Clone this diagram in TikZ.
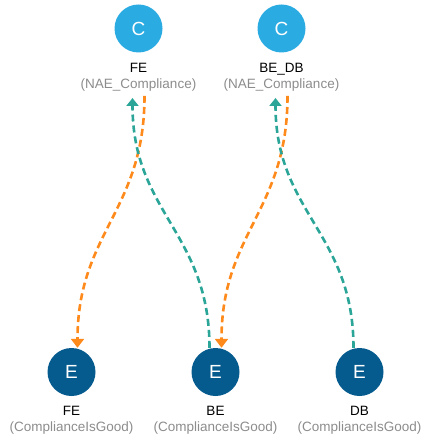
\documentclass[tikz,border=0pt]{standalone}
\usepackage{fontspec}
\setmainfont{Liberation Sans}
\usetikzlibrary{arrows.meta}
\definecolor{cblue}{HTML}{2AABE2}
\definecolor{eblue}{HTML}{065B8E}
\definecolor{floworange}{HTML}{FF8A1C}
\definecolor{flowteal}{HTML}{2AA598}
\definecolor{subgray}{HTML}{8C8C8C}
\begin{document}
\begin{tikzpicture}[x=1pt,y=-1pt,
        cnode/.style={circle,fill=cblue,minimum size=48pt,inner sep=0pt,text=white,font=\fontsize{19}{19}\selectfont},
        enode/.style={circle,fill=eblue,minimum size=48pt,inner sep=0pt,text=white,font=\fontsize{19}{19}\selectfont},
        caption/.style={align=center,anchor=north,inner sep=0pt,font=\fontsize{13.5}{16}\selectfont},
        orflow/.style={draw=floworange,line width=2.6pt,dash pattern=on 7pt off 4pt,-{Triangle[width=13pt,length=9pt]}},
        tlflow/.style={draw=flowteal,line width=2.6pt,dash pattern=on 7pt off 4pt,-{Triangle[width=12pt,length=8pt]}}]
    \useasboundingbox (0,0) rectangle (423,435);
    % compliance nodes
    \node [cnode] (fe) at (138.5,28.5) {C};
    \node [cnode] (bedb) at (281.5,28.5) {C};
    \node [caption] (fe-txt) at (138.5,63.5) {FE\\\textcolor{subgray}{(NAE\_Compliance)}};
    \node [caption] (bedb-txt) at (281.5,63.5) {BE\_DB\\\textcolor{subgray}{(NAE\_Compliance)}};
    % endpoint nodes
    \foreach \x/\name/\text in {71.5/fee/FE,215.5/bee/BE,359.5/dbe/DB}{
        \node [enode] (\name) at (\x,372) {E};
        \node [caption] (\name-txt) at (\x,406.5) {\text\\\textcolor{subgray}{(ComplianceIsGood)}};
    }
    % flows
    \draw [orflow] ([xshift=6pt,yshift=-4pt]fe-txt.south) .. controls +(0,115) and +(0,-115) .. ([xshift=6pt]fee.north);
    \draw [orflow] ([xshift=6pt,yshift=-4pt]bedb-txt.south) .. controls +(0,115) and +(0,-115) .. ([xshift=6pt]bee.north);
    \draw [tlflow] ([xshift=-6pt]bee.north) .. controls +(0,-115) and +(0,115) .. ([xshift=-6pt,yshift=-6pt]fe-txt.south);
    \draw [tlflow] ([xshift=-6pt]dbe.north) .. controls +(0,-115) and +(0,115) .. ([xshift=-6pt,yshift=-6pt]bedb-txt.south);
\end{tikzpicture}
\end{document}
